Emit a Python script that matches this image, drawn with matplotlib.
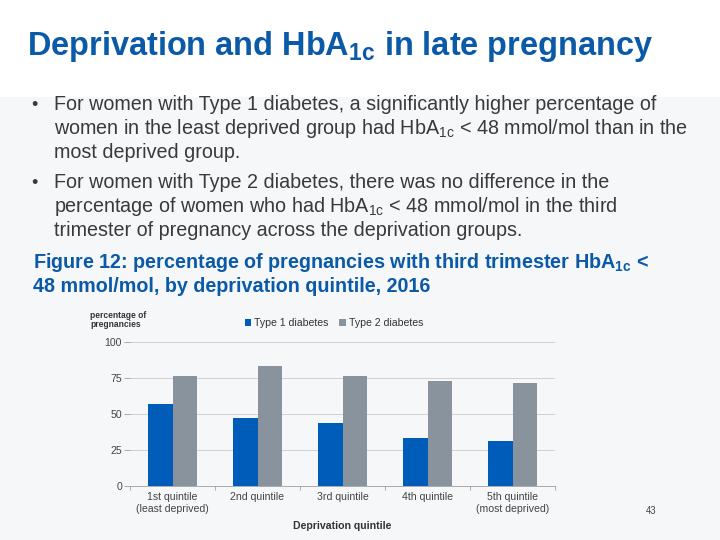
import matplotlib.pyplot as plt
from matplotlib.patches import Rectangle
import numpy as np

quintiles = ['1st quintile\n(least deprived)', '2nd quintile', '3rd quintile',
             '4th quintile', '5th quintile\n(most deprived)']
type1 = [57, 47, 44, 33.5, 31.5]
type2 = [76.5, 83, 76.5, 73, 71.5]
yticks = [0, 25, 50, 75, 100]

blue = '#0b5aa8'
plt.rcParams['font.family'] = ['Liberation Sans', 'DejaVu Sans']
plt.rcParams['mathtext.fontset'] = 'custom'
plt.rcParams['mathtext.rm'] = 'Liberation Sans'
plt.rcParams['mathtext.bf'] = 'Liberation Sans:bold'

W, H = 720, 540
fig = plt.figure(figsize=(10, 7.5), dpi=72)
fig.patches.append(Rectangle((0, 0), 1, 1 - 97 / H, transform=fig.transFigure,
                             color='#f6f7f8', zorder=-5))


def px(x, y):
    return x / W, 1 - y / H


fig.text(*px(27, 47), r'Deprivation and HbA$_{\mathregular{1c}}$ in late pregnancy',
         fontsize=32.5, fontweight='bold', color=blue, va='center', ha='left')

lines = [
    (31, 54, 105, '•', 'For women with Type 1 diabetes, a significantly higher percentage of'),
    (None, 54, 129, None, r'women in the least deprived group had HbA$_{\mathregular{1c}}$ < 48 mmol/mol than in the'),
    (None, 54, 153, None, 'most deprived group.'),
    (31, 54, 183, '•', 'For women with Type 2 diabetes, there was no difference in the'),
    (None, 54, 207, None, r'percentage of women who had HbA$_{\mathregular{1c}}$ < 48 mmol/mol in the third'),
    (None, 54, 231, None, 'trimester of pregnancy across the deprivation groups.'),
]
for bx, tx, ty, b, t in lines:
    if b:
        fig.text(*px(bx, ty), b, fontsize=18, color='#3a3a3a', va='center')
    fig.text(*px(tx, ty), t, fontsize=19.7, color='#3a3a3a', va='center')

fig.text(*px(33, 263), r'Figure 12: percentage of pregnancies with third trimester HbA$_{\mathbf{1c}}$ <',
         fontsize=19.7, fontweight='bold', color=blue, va='center')
fig.text(*px(33, 287), '48 mmol/mol, by deprivation quintile, 2016',
         fontsize=19.7, fontweight='bold', color=blue, va='center')

ax = fig.add_axes([130 / W, 1 - 486 / H, 425 / W, 144 / H])
ax.set_facecolor('none')
x = np.arange(len(quintiles))
w = 0.285
ax.bar(x - w / 2, type1, w, color='#005cb9', label='Type 1 diabetes', zorder=3)
ax.bar(x + w / 2, type2, w, color='#88939d', label='Type 2 diabetes', zorder=3)
ax.set_xlim(-0.5, 4.5)
ax.set_ylim(0, 100)
ax.set_yticks(yticks)
ax.yaxis.grid(True, color='#c8c8c8', linewidth=0.8, zorder=0)
for s in ['top', 'right', 'left']:
    ax.spines[s].set_visible(False)
ax.spines['bottom'].set_color('#999999')
ax.tick_params(axis='y', length=6, color='#999999', labelsize=10.5, labelcolor='#444444', pad=2)
ax.set_xticks(np.arange(-0.5, 5, 1))
ax.set_xticklabels([])
ax.tick_params(axis='x', length=4, color='#999999')
for i, q in enumerate(quintiles):
    ax.text(i, -4.5, q, ha='center', va='top', fontsize=10.5, color='#444444',
            linespacing=1.15)
ax.text(0.5, -0.245, 'Deprivation quintile', transform=ax.transAxes, ha='center',
        va='top', fontsize=10.5, fontweight='bold', color='#333333')

ax.legend(loc='lower center', bbox_to_anchor=(0.48, 1.03), ncol=2, frameon=False,
          fontsize=10.5, handlelength=0.6, handleheight=0.6, columnspacing=1.0,
          handletextpad=0.3, labelcolor='#333333')

fig.text(*px(90, 320), 'percentage of\npregnancies', fontsize=8.5, fontweight='bold',
         color='#333333', va='center', ha='left', linespacing=1.0)

fig.text(*px(651, 511), '43', fontsize=9.5, color='#444444', va='center', ha='center')

fig.savefig('out.png', dpi=72)
